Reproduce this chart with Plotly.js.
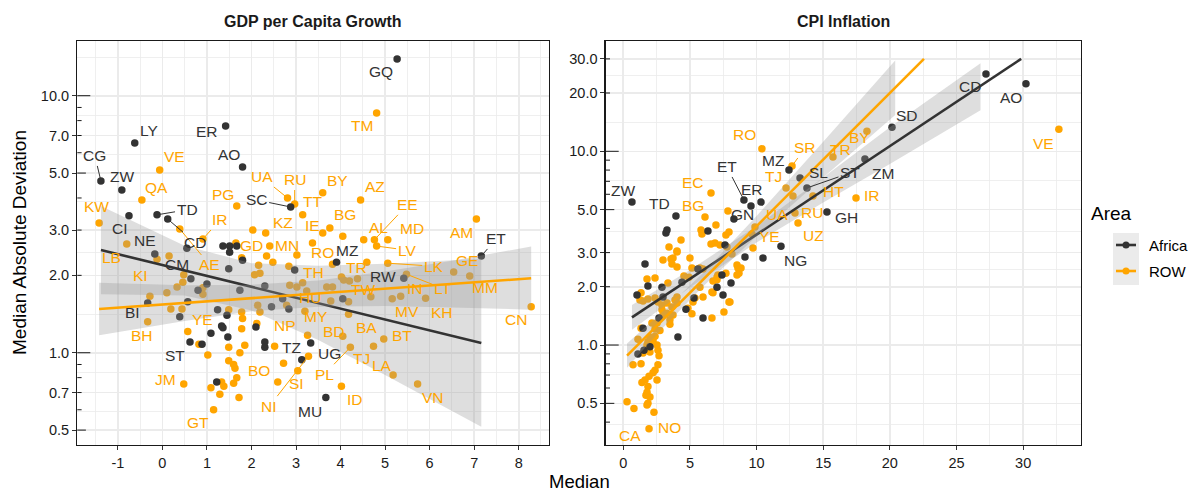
<!DOCTYPE html>
<html><head><meta charset="utf-8">
<script src="https://cdn.plot.ly/plotly-3.0.1.min.js"></script>
<style>html,body{margin:0;padding:0;background:#fff;}#chart{width:1193px;height:493px;}</style>
</head><body><div id="chart"></div>
<script>
// ---------------- DATA ----------------
// Panel 1: GDP per capita growth (median vs median absolute deviation)
const gdpAfricaCode = [
 'GQ','ER','LY','AO','CG','ZW','CI','TD','CD','SC',
 'NE','','CM','','','','','BI','ST','',
 '','','','','','','','','','',
 '','','','','','','','','','',
 '','','','MZ','RW','ET','UG','TZ','MU'];
const gdpAfricaMedian = [
 5.27,1.42,-0.62,1.80,-1.38,-0.91,-0.75,-0.12,0.12,2.88,
 -0.17,0.55,0.64,1.00,0.80,0.57,0.39,-0.33,0.62,0.89,
 1.09,1.24,1.45,1.33,1.36,1.47,1.22,1.36,1.51,1.51,
 1.67,1.80,1.49,1.74,2.10,2.30,2.30,2.30,2.45,2.84,
 2.97,2.70,4.05,3.91,5.42,7.16,3.33,3.13,3.67];
const gdpAfricaMad = [
 13.9,7.62,6.55,5.28,4.66,4.30,3.41,3.44,3.31,3.69,
 2.42,2.55,1.94,1.85,1.75,1.58,1.38,1.56,1.10,1.08,
 1.19,1.47,1.40,1.27,1.25,1.15,0.77,2.60,2.60,2.46,
 2.60,2.29,2.12,1.75,1.26,1.82,1.10,1.05,1.51,1.48,
 2.10,1.62,1.62,2.25,1.95,2.38,1.09,0.94,0.67];

const gdpRowCode = [
 'TM','VE','QA','KW','PG','UA','RU','TT','BY','AZ',
 'KZ','','IE','BG','','AL','EE','MD','LV','LK',
 'AM','GE','MM','LT','IN','MV','KH','CN','VN','LA',
 'ID','BT','TJ','PL','BA','BD','MY','HU','TW','TR',
 'TH','RO','NI','SI','NP','BO','JM','GT','YE','BH',
 'LB','KI','AE','IR','GD','MN','','','','',
 '','','','','','','','','','',
 '','','','','','','','','','',
 '','','','','','','','','','',
 '','','','','','','','','','',
 '','','','','','','','','',''];
const gdpRowMedian = [
 4.81,-0.06,-0.46,-1.42,1.67,2.81,2.97,3.15,3.60,4.45,
 2.32,2.03,3.60,3.76,4.05,4.52,4.76,5.06,4.81,5.06,
 7.05,6.54,6.90,5.48,5.35,5.16,5.91,8.28,5.73,5.18,
 4.02,4.97,4.74,4.22,4.18,4.05,3.20,3.78,4.68,4.59,
 3.15,3.37,3.28,3.04,3.26,2.72,0.48,1.15,0.57,-0.33,
 -0.80,-0.12,0.39,0.91,1.65,2.41,0.15,0.48,0.46,0.33,
 0.10,-0.28,0.91,0.91,0.19,0.44,0.82,1.02,1.49,1.78,
 1.80,1.78,1.85,1.49,1.74,1.49,1.60,1.63,1.67,1.60,
 1.33,1.38,1.29,1.09,1.72,2.19,2.12,2.19,2.07,2.16,
 2.34,2.48,2.84,3.02,2.86,3.02,3.24,2.52,2.59,1.78,
 3.82,2.14,4.02,4.07,4.20,4.38,3.69,3.82,4.18,2.79];
const gdpRowMad = [
 8.57,5.14,3.93,3.20,3.72,4.00,3.79,3.44,4.19,3.93,
 2.92,3.00,2.92,3.06,2.84,2.75,2.75,2.75,2.60,2.23,
 3.31,2.06,1.99,2.02,1.66,1.62,1.63,1.51,0.755,0.82,
 0.74,1.13,1.06,1.05,1.41,1.16,1.45,1.59,1.65,2.25,
 1.87,2.67,0.97,0.85,1.17,0.91,0.755,0.60,1.21,1.32,
 2.65,2.31,3.03,2.77,2.67,2.60,2.38,2.01,1.88,1.80,
 1.71,1.66,1.79,1.69,1.48,1.48,1.08,0.98,1.47,1.44,
 1.36,1.24,1.07,1.05,1.00,0.93,0.90,0.87,0.80,0.76,
 0.77,0.74,0.69,0.73,0.67,1.44,1.30,2.04,2.01,2.19,
 2.38,2.25,2.17,2.40,1.83,1.80,1.74,1.06,0.77,2.34,
 2.21,1.53,1.97,1.92,1.90,1.94,1.80,1.80,1.58,1.53];

// Fitted trend lines and confidence bands
const gdpAfricaFitX = [-1.38, 7.16];
const gdpAfricaFitY = [2.51, 1.09];
const gdpAfricaBandX  = [-1.38, 0.5, 2.0, 3.5, 5.0, 7.16];
const gdpAfricaBandLo = [1.69, 1.67, 1.46, 1.12, 0.82, 0.515];
const gdpAfricaBandHi = [3.72, 2.61, 2.23, 2.18, 2.22, 2.32];
const gdpRowFitX = [-1.42, 8.28];
const gdpRowFitY = [1.479, 1.948];
const gdpRowBandX  = [-1.42, 0.5, 2.0, 3.5, 5.0, 6.5, 8.28];
const gdpRowBandLo = [1.17, 1.33, 1.45, 1.51, 1.52, 1.50, 1.47];
const gdpRowBandHi = [1.87, 1.83, 1.84, 1.91, 2.07, 2.28, 2.59];

// Panel 2: CPI inflation
const cpiAfricaCode = [
 'CD','AO','SD','ZM','ST','SL','MZ','GH','ET','ER',
 '','GN','TD','ZW','','','','NG','','',
 '','','','','','','','','','',
 '','','','','','','','','','',
 ''];
const cpiAfricaMedian = [
 27.21,30.21,20.16,18.13,13.78,13.26,12.43,15.28,9.05,10.33,
 9.58,8.30,3.95,0.65,6.35,3.20,3.28,11.83,7.63,10.48,
 9.13,7.40,8.08,7.48,7.03,5.98,4.70,5.30,4.40,4.10,
 2.90,2.98,2.68,1.85,1.63,1.03,1.48,1.55,1.10,2.00,
 5.60];
const cpiAfricaMad = [
 25.1,22.3,13.3,9.12,6.47,7.28,8.0,4.86,5.61,5.47,
 5.22,4.47,4.63,5.47,3.88,3.79,3.93,3.24,3.28,2.81,
 2.85,2.30,2.09,1.81,1.99,1.38,1.53,1.75,2.11,1.10,
 1.99,1.77,1.38,2.02,2.62,1.81,1.22,0.94,0.90,0.98,
 2.47];

const cpiRowCode = [
 'VE','IR','BY','TR','HT','RU','UZ','UA','YE','TJ',
 'SR','RO','EC','BG','CA','NO','','','','',
 '','','','','','','','','','',
 '','','','','','','','','','',
 '','','','','','','','','','',
 '','','','','','','','','','',
 '','','','','','','','','','',
 '','','','','','','','','','',
 '','','','','','','','','','',
 '','','','','','','','','','',
 '','','','','','','','','','',
 '','','','','','','','','',''];
const cpiRowMedian = [
 32.68,17.46,18.28,15.73,14.23,12.88,13.11,9.88,9.73,12.21,
 12.66,10.40,6.58,6.13,0.80,1.93,0.28,7.85,6.95,5.83,
 5.90,4.33,3.43,5.00,3.73,4.03,2.98,1.78,2.38,7.70,
 7.25,8.60,8.53,7.93,9.65,12.73,3.58,3.65,4.03,5.15,
 4.93,5.75,5.98,1.33,1.48,2.60,2.90,2.15,2.38,2.75,
 3.50,3.28,3.65,3.88,3.35,4.55,5.23,5.15,5.75,6.65,
 6.73,7.03,7.70,7.93,7.55,8.68,8.53,0.73,1.33,2.60,
 2.00,2.23,1.85,2.53,2.60,2.68,1.10,2.38,2.23,1.93,
 1.63,1.40,2.53,1.85,1.78,2.00,1.85,2.30,1.25,1.85,
 2.38,2.90,3.28,2.98,2.53,2.38,3.50,4.03,4.03,3.73,
 4.03,6.58,6.88,7.78,8.15,7.10,7.03,6.73,6.65,8.00,
 8.83,5.38,5.98,4.85,1.33,1.78,2.00,1.48,1.70,1.78];
const cpiRowMad = [
 13.0,5.74,12.7,9.35,5.88,4.80,4.26,4.07,3.17,6.47,
 8.40,10.3,6.09,4.58,0.47,0.37,0.51,4.92,4.17,3.93,
 3.74,3.48,3.21,2.81,2.81,2.53,2.75,2.19,2.22,3.70,
 3.28,2.50,2.30,3.83,3.74,5.88,2.78,2.62,3.02,2.50,
 2.24,2.50,1.77,1.86,1.69,1.67,1.52,1.30,1.21,1.19,
 1.35,1.46,1.57,1.71,2.09,2.27,1.67,1.45,1.99,1.38,
 1.86,2.24,2.35,1.67,1.48,2.35,2.59,0.79,0.80,0.79,
 1.10,1.05,1.04,1.00,0.94,0.88,1.07,0.74,0.72,0.69,
 0.66,0.64,0.66,0.61,0.57,0.54,0.50,0.45,1.71,1.73,
 1.75,1.61,1.65,1.43,1.30,1.11,1.28,1.65,1.77,1.43,
 3.06,3.32,3.36,3.21,2.95,2.30,2.17,2.14,1.88,1.67,
 2.50,1.75,2.47,1.55,1.22,1.00,0.92,0.91,0.55,0.49];

const cpiAfricaFitX = [0.65, 29.85];
const cpiAfricaFitY = [1.39, 30.0];
const cpiAfricaBandX  = [0.65, 5, 10, 15, 20, 26.8];
const cpiAfricaBandLo = [1.20, 1.98, 3.38, 5.45, 8.61, 16.3];
const cpiAfricaBandHi = [1.61, 2.44, 4.12, 7.33, 13.3, 28.5];
const cpiRowFitX = [0.28, 22.56];
const cpiRowFitY = [0.882, 30.0];
const cpiRowBandX  = [0.28, 3, 6, 10, 15, 20.4];
const cpiRowBandLo = [0.764, 1.23, 2.01, 3.64, 7.33, 15.4];
const cpiRowBandHi = [1.017, 1.50, 2.36, 4.63, 11.2, 29.4];

// Axis tick labels
const gdpXTicks = [-1,0,1,2,3,4,5,6,7,8];
const gdpYTicks = [0.5,0.7,1,2,3,5,7,10];
const gdpYTickText = ['0.5','0.7','1.0','2.0','3.0','5.0','7.0','10.0'];
const cpiXTicks = [0,5,10,15,20,25,30];
const cpiYTicks = [0.5,1,2,3,5,10,20,30];
const cpiYTickText = ['0.5','1.0','2.0','3.0','5.0','10.0','20.0','30.0'];

// ---------------- LABEL PLACEMENT (pixel nudges [dx, dy, segment]) ----------------
const gdpNudge = {GQ:[-16,13],ER:[-19,5],LY:[14,-12],AO:[-14,-12],CG:[-6,-25,1],ZW:[0,-13],CI:[-9,13],TD:[30,-5,1],CD:[27,23,1],SC:[-34,-7,1],NE:[-10,-14],CM:[-14,-14],BI:[-15,9],ST:[-15,13],TZ:[-10,-12],UG:[19,10],MU:[-16,14],MZ:[10,-12],RW:[-21,-2],ET:[15,-17,1],
 TM:[-15,13],VE:[15,-13],QA:[15,-12],KW:[-3,-16],PG:[-14,-12],UA:[-26,-21,1],RU:[0,-24,1],TT:[10,-13],BY:[15,-12],AZ:[14,-13],KZ:[17,-11],IE:[-10,-8],BG:[15,-13],AL:[15,-12],EE:[33,-35,1],MD:[24,-11],LV:[30,4,1],LK:[46,3,1],AM:[-15,13],GE:[13,-12],MM:[15,12],LT:[36,14,1],IN:[14,-8],MV:[15,13],KH:[16,14],CN:[-15,13],VN:[15,13],LA:[-11,-9],ID:[14,13],BT:[18,-4],TJ:[-12,12],PL:[-26,27,1],BA:[18,13],BD:[-9,-5,1],MY:[11,5],HU:[-21,-3],TW:[-8,-7],TR:[-10,5],TH:[11,-10],RO:[10,9],NI:[-39,50,1],SI:[-1,13],NP:[-23,-10],BO:[-25,7],JM:[-18,-5],GT:[-16,13],YE:[15,-12],BH:[-6,14],LB:[-15,14],KI:[-17,16],AE:[30,36,1],IR:[17,-19,1],GD:[16,2],MN:[17,-1]};
const cpiNudge = {CD:[-16,13],AO:[-15,14],SD:[15,-12],ZM:[18,14],ST:[43,-15,1],SL:[18,-6],MZ:[-16,-10],GH:[20,5],ET:[-17,-33,1],ER:[-9,-13],GN:[9,-5],TD:[-16,-13],ZW:[-9,-12],NG:[15,14],
 VE:[-15,14],IR:[16,-3],BY:[-7,6],TR:[8,-7],HT:[21,-4],RU:[17,-1],UZ:[15,12],UA:[22,-12],YE:[17,-11],TJ:[-13,-11],SR:[13,-18,1],RO:[-17,-14],EC:[-18,-11],BG:[-12,-12],CA:[-4,27],NO:[20,-1]};

// ---------------- STYLE ----------------
const AFR = '#333333', ROWC = '#FFA500';
const BAND = 'rgba(153,153,153,0.32)';
const FONT = 'Liberation Sans, Arial, Helvetica, sans-serif';
const W = 1193, H = 493;
const dom1 = [77.3/W, 549/W], dom2 = [605.7/W, 1081/W];
const ydom = [(H-445)/H, (H-41)/H];

// ---------------- TRACES ----------------
const traces=[];
function addPanel(xa, ya, rowX, rowY, afrX, afrY, fits){
 traces.push({type:'scatter',mode:'markers',x:rowX,y:rowY,xaxis:xa,yaxis:ya,marker:{color:ROWC,size:7.5},showlegend:false,hoverinfo:'skip'});
 traces.push({type:'scatter',mode:'markers',x:afrX,y:afrY,xaxis:xa,yaxis:ya,marker:{color:AFR,size:7.5},showlegend:false,hoverinfo:'skip'});
 fits.forEach(f=>{
  traces.push({type:'scatter',mode:'lines',x:f.bx.concat(f.bx.slice().reverse()),y:f.hi.concat(f.lo.slice().reverse()),
   fill:'toself',fillcolor:BAND,line:{width:0},xaxis:xa,yaxis:ya,showlegend:false,hoverinfo:'skip'});
  traces.push({type:'scatter',mode:'lines',x:f.lx,y:f.ly,line:{color:f.col,width:2.6},xaxis:xa,yaxis:ya,showlegend:false,hoverinfo:'skip'});
 });
}
addPanel('x','y',gdpRowMedian,gdpRowMad,gdpAfricaMedian,gdpAfricaMad,[
 {bx:gdpAfricaBandX,lo:gdpAfricaBandLo,hi:gdpAfricaBandHi,lx:gdpAfricaFitX,ly:gdpAfricaFitY,col:AFR},
 {bx:gdpRowBandX,lo:gdpRowBandLo,hi:gdpRowBandHi,lx:gdpRowFitX,ly:gdpRowFitY,col:ROWC}]);
addPanel('x2','y2',cpiRowMedian,cpiRowMad,cpiAfricaMedian,cpiAfricaMad,[
 {bx:cpiAfricaBandX,lo:cpiAfricaBandLo,hi:cpiAfricaBandHi,lx:cpiAfricaFitX,ly:cpiAfricaFitY,col:AFR},
 {bx:cpiRowBandX,lo:cpiRowBandLo,hi:cpiRowBandHi,lx:cpiRowFitX,ly:cpiRowFitY,col:ROWC}]);

// ---------------- ANNOTATIONS ----------------
const ann=[];
function addLabels(xref,yref,codes,xs,ys,col,nudge){
 codes.forEach((c,i)=>{
  if(!c)return;const nd=nudge[c]||[0,-12];
  const base={x:xs[i],y:Math.log10(ys[i]),xref,yref,text:c,font:{family:FONT,size:15.5,color:col}};
  if(nd[2]){Object.assign(base,{showarrow:true,ax:nd[0],ay:nd[1],arrowhead:0,arrowwidth:1,arrowcolor:col,standoff:3});}
  else{Object.assign(base,{showarrow:false,xanchor:'center',yanchor:'middle',xshift:nd[0],yshift:-nd[1]});}
  ann.push(base);
 });
}
addLabels('x','y',gdpRowCode,gdpRowMedian,gdpRowMad,ROWC,gdpNudge);
addLabels('x','y',gdpAfricaCode,gdpAfricaMedian,gdpAfricaMad,AFR,gdpNudge);
addLabels('x2','y2',cpiRowCode,cpiRowMedian,cpiRowMad,ROWC,cpiNudge);
addLabels('x2','y2',cpiAfricaCode,cpiAfricaMedian,cpiAfricaMad,AFR,cpiNudge);

const px=(v)=>v/W, py=(v)=>1-v/H;
const paperText=(x,y,text,size,extra)=>Object.assign({xref:'paper',yref:'paper',x,y,text,showarrow:false,xanchor:'center',yanchor:'middle',font:{family:FONT,size,color:'#000'}},extra||{});
ann.push(paperText((dom1[0]+dom1[1])/2,py(22),'<b>GDP per Capita Growth</b>',16,{font:{family:FONT,size:16,color:'#1a1a1a'}}));
ann.push(paperText((dom2[0]+dom2[1])/2,py(22),'<b>CPI Inflation</b>',16,{font:{family:FONT,size:16,color:'#1a1a1a'}}));
ann.push(paperText(px(19),py(243),'Median Absolute Deviation',19,{textangle:-90}));
ann.push(paperText(px(579),py(481),'Median',18.5));
ann.push(paperText(px(1089),py(213),'Area',19,{xanchor:'left'}));
ann.push(paperText(px(1147),py(245),'Africa',15,{xanchor:'left'}));
ann.push(paperText(px(1147),py(271),'ROW',15,{xanchor:'left'}));

// ---------------- SHAPES: log ticks + legend keys ----------------
const shapes=[];
function logTicks(xdom,yref,lo,hi,plotW){
 for(let e=-2;e<=2;e++)for(let m=1;m<=9;m++){
  const v=m*Math.pow(10,e);if(v<lo||v>hi)continue;
  const len=(m===1?13:(m===5?8.6:4.3));
  shapes.push({type:'line',xref:xdom,yref,x0:0,x1:len/plotW,y0:v,y1:v,line:{color:'#1a1a1a',width:1}});
 }
}
logTicks('x domain','y',Math.pow(10,-0.359),Math.pow(10,1.2128),(dom1[1]-dom1[0])*W);
logTicks('x2 domain','y2',Math.pow(10,-0.516),Math.pow(10,1.5694),(dom2[1]-dom2[0])*W);
shapes.push({type:'rect',xref:'paper',yref:'paper',x0:px(1113),x1:px(1139),y0:py(285),y1:py(233),fillcolor:'#ebebeb',line:{width:0},layer:'below'});
[[245,AFR],[271,ROWC]].forEach(([yy,col])=>{
 shapes.push({type:'line',xref:'paper',yref:'paper',x0:px(1116),x1:px(1136),y0:py(yy),y1:py(yy),line:{color:col,width:2.6}});
 shapes.push({type:'circle',xref:'paper',yref:'paper',x0:px(1122.5),x1:px(1129.5),y0:py(yy+3.5),y1:py(yy-3.5),fillcolor:col,line:{width:0}});
});

// ---------------- LAYOUT ----------------
const axBase={showline:true,mirror:true,linecolor:'#1a1a1a',linewidth:1.3,zeroline:false,ticks:'outside',ticklen:4,tickwidth:1,tickcolor:'#333',
 showgrid:true,gridcolor:'#ebebeb',gridwidth:1.6,tickfont:{family:FONT,size:14.5,color:'#1a1a1a'}};
const minorGrid=(vals)=>({tickmode:'array',tickvals:vals,showgrid:true,gridcolor:'#ebebeb',gridwidth:0.8,ticks:''});
const layout={width:W,height:H,margin:{l:0,r:0,t:0,b:0},paper_bgcolor:'#fff',plot_bgcolor:'#fff',showlegend:false,
 xaxis:Object.assign({},axBase,{domain:dom1,anchor:'y',range:[-1.91,8.68],tickmode:'array',tickvals:gdpXTicks,ticktext:gdpXTicks.map(String),
  minor:minorGrid([-1.5,-0.5,0.5,1.5,2.5,3.5,4.5,5.5,6.5,7.5,8.5])}),
 yaxis:Object.assign({},axBase,{domain:ydom,anchor:'x',type:'log',range:[-0.359,1.2128],tickmode:'array',tickvals:gdpYTicks,ticktext:gdpYTickText,
  minor:minorGrid([0.5916,0.8367,1.4142,2.4495,3.873,5.916,8.367,14.142])}),
 xaxis2:Object.assign({},axBase,{domain:dom2,anchor:'y2',range:[-1.32,34.34],tickmode:'array',tickvals:cpiXTicks,ticktext:cpiXTicks.map(String),
  minor:minorGrid([2.5,7.5,12.5,17.5,22.5,27.5,32.5])}),
 yaxis2:Object.assign({},axBase,{domain:ydom,anchor:'x2',type:'log',range:[-0.516,1.5694],tickmode:'array',tickvals:cpiYTicks,ticktext:cpiYTickText,
  minor:minorGrid([0.3873,0.7071,1.4142,2.4495,3.873,7.071,14.142,24.495])}),
 annotations:ann,shapes:shapes};
Plotly.newPlot('chart',traces,layout,{staticPlot:true,displayModeBar:false});
</script></body></html>
